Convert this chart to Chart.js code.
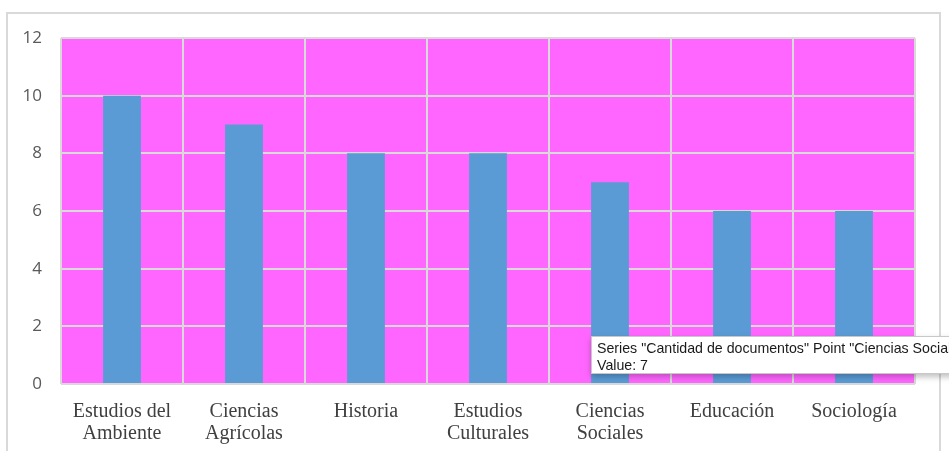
<!DOCTYPE html>
<html>
<head>
<meta charset="utf-8">
<script src="https://cdn.jsdelivr.net/npm/chart.js"></script>
<style>
  html, body { margin: 0; padding: 0; background: #fff; overflow: hidden; }
  #wrap { position: relative; width: 949px; height: 451px; }
  #tip {
    position: absolute; left: 591px; top: 336px; width: 420px; height: 38px;
    background: #fff; border: 1px solid #c8c8c8;
    box-shadow: 0 3px 6px rgba(0,0,0,0.25);
    font: 14.2px "Liberation Sans", Arial, sans-serif; color: #1a1a1a;
    padding: 3px 5px; box-sizing: border-box; line-height: 17px; white-space: nowrap;
  }
</style>
</head>
<body>
<div id="wrap">
  <canvas id="grafico" width="949" height="451"></canvas>
  <div id="tip">Series "Cantidad de documentos" Point "Ciencias Sociales"<br>Value: 7</div>
</div>
<script>
const categorias = [["Estudios del", "Ambiente"], ["Ciencias", "Agrícolas"], "Historia", ["Estudios", "Culturales"], ["Ciencias", "Sociales"], "Educación", "Sociología"];
const documentos = [10, 9, 8, 8, 7, 6, 6];
const serieNombre = "Cantidad de documentos";

const fondo = {
  id: 'fondo',
  beforeDraw(chart) {
    const ctx = chart.ctx, a = chart.chartArea;
    ctx.save();
    ctx.strokeStyle = '#d9d9d9';
    ctx.lineWidth = 2;
    ctx.strokeRect(7, 13, 933, 500);
    ctx.fillStyle = '#ff66ff';
    ctx.fillRect(a.left, a.top, a.right - a.left, a.bottom - a.top);
    ctx.restore();
  }
};

new Chart(document.getElementById("grafico"), {
  type: 'bar',
  data: {
    labels: categorias,
    datasets: [{
      label: serieNombre,
      data: documentos,
      backgroundColor: '#5b9bd5',
      categoryPercentage: 1,
      barPercentage: 0.31
    }]
  },
  options: {
    responsive: false,
    animation: false,
    layout: { padding: { top: 38, right: 34, left: 0, bottom: 0 } },
    plugins: { legend: { display: false }, tooltip: { enabled: false } },
    scales: {
      y: {
        min: 0, max: 12,
        ticks: { stepSize: 2, padding: 19, color: '#595959', font: { family: 'Open Sans', size: 17 } },
        grid: { color: '#d9d9d9', lineWidth: 2, drawTicks: false },
        border: { display: false },
        afterFit(s) { s.width = 61; }
      },
      x: {
        ticks: { padding: 17, color: '#404040', maxRotation: 0, font: { family: 'Liberation Serif', size: 20, lineHeight: 1.1 } },
        grid: { color: '#d9d9d9', lineWidth: 2, drawTicks: false },
        border: { display: false },
        afterFit(s) { s.height = 67; }
      }
    }
  },
  plugins: [fondo]
});
</script>
</body>
</html>
